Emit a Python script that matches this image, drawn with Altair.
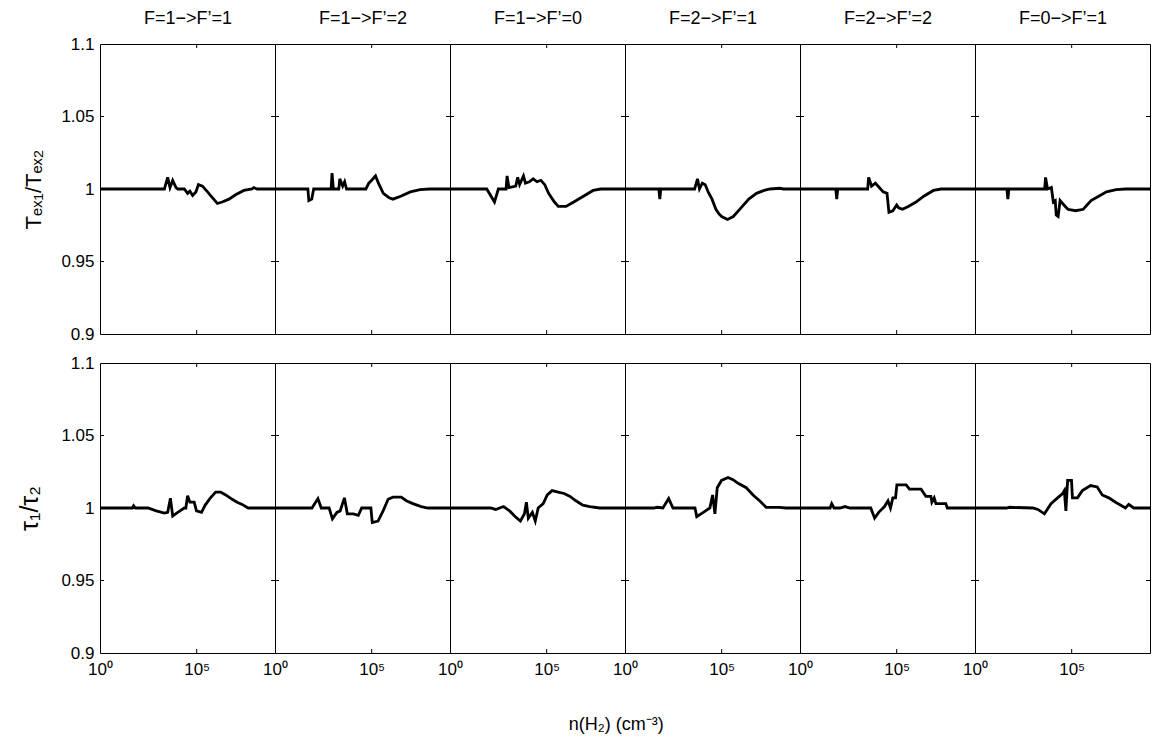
import altair as alt
import pandas as pd

FONT = "Liberation Sans"

# ---------------- panel titles ----------------
panel_titles = ["F=1−>F’=1", "F=1−>F’=2", "F=1−>F’=0",
                "F=2−>F’=1", "F=2−>F’=2", "F=0−>F’=1"]

# ---------------- top row: Tex1/Tex2 (x given as log10 n(H2)) ----------------
tex_p1_logn = [0, 3.33, 3.50, 3.62, 3.76, 3.93, 4.02, 4.36, 4.53, 4.65, 4.79, 4.96, 5.09, 5.30,
               5.56, 5.81, 6.07, 6.32, 6.67, 7.01, 7.44, 7.86, 7.95, 8.12, 9.05]
tex_p1_val = [1.0, 1.0, 1.008, 1.001, 1.006, 1.001, 1.0, 1.0, 0.997, 0.9985, 0.9955, 0.998, 1.003, 1.002,
              0.998, 0.994, 0.990, 0.991, 0.993, 0.996, 0.999, 1.0, 1.001, 1.0, 1.0]

tex_p2_logn = [0, 1.70, 1.75, 1.90, 2.0, 2.90, 2.95, 3.02, 3.30, 3.35, 3.50, 3.60, 3.70, 4.70,
               4.85, 5.0, 5.20, 5.35, 5.60, 5.90, 6.10, 6.50, 7.0, 7.50, 8.0, 9.05]
tex_p2_val = [1.0, 1.0, 0.992, 0.993, 1.0, 1.0, 1.011, 1.0, 1.0, 1.007, 1.002, 1.005, 1.0, 1.0,
              1.004, 1.006, 1.009, 1.004, 0.997, 0.994, 0.993, 0.995, 0.998, 0.9995, 1.0, 1.0]

tex_p3_logn = [0, 1.90, 2.30, 2.50, 2.90, 2.95, 3.05, 3.40, 3.50, 3.60, 3.80, 3.90, 4.10, 4.30,
               4.50, 4.70, 4.90, 5.10, 5.40, 5.60, 6.0, 6.40, 6.90, 7.40, 7.80, 9.05]
tex_p3_val = [1.0, 1.0, 0.991, 1.0, 1.0, 1.009, 1.001, 1.002, 1.008, 1.003, 1.009, 1.004, 1.005, 1.007,
              1.005, 1.006, 1.003, 0.997, 0.991, 0.988, 0.988, 0.991, 0.995, 0.999, 1.0, 1.0]

tex_p4_logn = [0, 1.75, 1.80, 1.85, 3.60, 3.75, 3.85, 4.0, 4.15, 4.30, 4.50, 4.70, 4.85, 5.0,
               5.30, 5.60, 6.0, 6.40, 6.80, 7.20, 7.50, 8.0, 8.2, 9.05]
tex_p4_val = [1.0, 1.0, 0.993, 1.0, 1.0, 1.007, 1.0, 1.004, 1.003, 0.998, 0.993, 0.986, 0.983, 0.981,
              0.979, 0.981, 0.987, 0.993, 0.997, 0.999, 1.0, 1.0005, 1.0, 1.0]

tex_p5_logn = [0, 1.85, 1.90, 1.95, 3.50, 3.55, 3.70, 3.90, 4.10, 4.30, 4.50, 4.60, 4.80, 5.0,
               5.10, 5.30, 5.60, 6.0, 6.40, 6.90, 7.30, 9.05]
tex_p5_val = [1.0, 1.0, 0.993, 1.0, 1.0, 1.008, 1.002, 1.004, 1.001, 0.998, 0.997, 0.984, 0.985, 0.989,
              0.987, 0.986, 0.988, 0.991, 0.995, 0.999, 1.0, 1.0]

tex_p6_logn = [0, 1.65, 1.70, 1.75, 3.60, 3.65, 3.75, 3.95, 4.05, 4.15, 4.20, 4.30, 4.40, 4.60,
               4.80, 5.20, 5.60, 6.0, 6.40, 6.80, 7.30, 7.80, 9.05]
tex_p6_val = [1.0, 1.0, 0.993, 1.0, 1.0, 1.008, 1.0, 1.001, 0.991, 0.992, 0.982, 0.981, 0.992, 0.989,
              0.986, 0.985, 0.986, 0.992, 0.995, 0.998, 0.9995, 1.0, 1.0]

# ---------------- bottom row: tau1/tau2 ----------------
tau_p1_logn = [0, 1.67, 1.74, 1.83, 2.48, 2.91, 3.33, 3.50, 3.64, 3.76, 4.02, 4.36, 4.44, 4.53,
               4.65, 4.87, 4.99, 5.25, 5.44, 5.68, 5.98, 6.24, 6.50, 6.84, 7.09, 7.35, 7.66, 9.05]
tau_p1_val = [1.0, 1.0, 1.0016, 1.0, 1.0, 0.998, 0.9965, 0.997, 1.0067, 0.9945, 0.997, 1.0, 1.0, 1.0085,
              1.004, 1.004, 0.998, 0.997, 1.002, 1.0065, 1.011, 1.011, 1.009, 1.006, 1.004, 1.0025, 1.0, 1.0]

tau_p2_logn = [0, 1.91, 2.22, 2.39, 2.80, 2.97, 3.20, 3.37, 3.59, 3.74, 4.05, 4.31, 4.48, 4.96,
               5.03, 5.33, 5.59, 5.85, 6.10, 6.53, 6.79, 7.13, 7.56, 7.90, 9.05]
tau_p2_val = [1.0, 1.0, 1.0065, 1.0, 1.0, 0.9925, 0.997, 0.998, 1.007, 0.996, 0.996, 0.995, 1.0, 1.0,
              0.990, 0.991, 0.998, 1.006, 1.0075, 1.0075, 1.005, 1.003, 1.001, 1.0, 1.0]

tau_p3_logn = [0, 2.10, 2.36, 2.77, 3.08, 3.38, 3.64, 3.85, 3.95, 4.05, 4.26, 4.41, 4.56, 4.82,
               5.03, 5.28, 5.59, 5.90, 6.21, 6.51, 6.87, 7.23, 7.74, 9.05]
tau_p3_val = [1.0, 1.0, 0.999, 1.001, 0.998, 0.994, 0.991, 0.996, 1.004, 0.993, 0.997, 0.991, 1.0, 1.003,
              1.009, 1.012, 1.011, 1.010, 1.008, 1.005, 1.002, 1.001, 1.0, 1.0]

tau_p4_logn = [0, 1.49, 1.66, 1.96, 2.26, 2.48, 3.62, 3.71, 4.05, 4.39, 4.53, 4.65, 4.77, 4.99,
               5.33, 5.59, 5.85, 6.27, 6.62, 6.96, 7.30, 7.64, 7.98, 8.32, 9.05]
tau_p4_val = [1.0, 1.0, 1.0005, 1.0, 1.0065, 1.0, 1.0, 0.994, 0.997, 1.0, 1.009, 0.996, 1.014, 1.019,
              1.021, 1.0195, 1.017, 1.014, 1.009, 1.005, 1.0005, 1.0005, 1.0005, 1.0, 1.0]

tau_p5_logn = [0, 1.56, 1.64, 1.76, 2.07, 2.32, 2.58, 3.66, 3.86, 4.07, 4.37, 4.55, 4.68, 4.80,
               4.94, 5.01, 5.49, 5.66, 6.26, 6.51, 6.77, 6.82, 6.94, 7.03, 7.54, 7.62, 9.05]
tau_p5_val = [1.0, 1.0, 1.003, 1.0, 1.0, 1.001, 1.0, 1.0, 0.993, 0.997, 1.001, 1.005, 1.0, 1.007,
              1.007, 1.016, 1.016, 1.013, 1.013, 1.008, 1.008, 1.004, 1.007, 1.003, 1.003, 1.0, 1.0]

tau_p6_logn = [0, 1.62, 1.79, 2.99, 3.25, 3.59, 3.93, 4.27, 4.53, 4.62, 4.70, 4.79, 4.99, 5.04,
               5.30, 5.55, 5.98, 6.32, 6.58, 6.92, 7.27, 7.78, 7.95, 8.21, 9.05]
tau_p6_val = [1.0, 1.0, 1.0005, 1.0, 0.999, 0.996, 1.003, 1.007, 1.010, 1.012, 0.998, 1.019, 1.019, 1.007,
              1.007, 1.012, 1.0155, 1.0145, 1.009, 1.007, 1.004, 1.0, 1.0025, 1.0, 1.0]

top_series = [(tex_p1_logn, tex_p1_val), (tex_p2_logn, tex_p2_val), (tex_p3_logn, tex_p3_val),
              (tex_p4_logn, tex_p4_val), (tex_p5_logn, tex_p5_val), (tex_p6_logn, tex_p6_val)]
bottom_series = [(tau_p1_logn, tau_p1_val), (tau_p2_logn, tau_p2_val), (tau_p3_logn, tau_p3_val),
                 (tau_p4_logn, tau_p4_val), (tau_p5_logn, tau_p5_val), (tau_p6_logn, tau_p6_val)]

y_ticks = [0.9, 0.95, 1.0, 1.05, 1.1]
x_ticks = [1, 1e5]
X_MIN_EXP, X_MAX_EXP = 0.0, 9.05
Y_MIN, Y_MAX = 0.9, 1.1
row_titles = ["Tₑₓ₁/Tₑₓ₂", "τ₁/τ₂"]
x_title = "n(H₂) (cm⁻³)"

PANEL_W, PANEL_H = 175, 290
XMIN, XMAX = 10 ** X_MIN_EXP, 10 ** X_MAX_EXP

# inward tick marks (built from the tick values, in data units)
tick_len_y = 4 / PANEL_H * (Y_MAX - Y_MIN)
tick_len_x = 4 / PANEL_W * (X_MAX_EXP - X_MIN_EXP)
tick_rows = []
for xv in x_ticks[1:]:
    tick_rows.append(dict(n=xv, n2=xv, r=Y_MIN, r2=Y_MIN + tick_len_y))
    tick_rows.append(dict(n=xv, n2=xv, r=Y_MAX - tick_len_y, r2=Y_MAX))
for yv in y_ticks[1:-1]:
    tick_rows.append(dict(n=XMIN, n2=10 ** (X_MIN_EXP + tick_len_x), r=yv, r2=yv))
    tick_rows.append(dict(n=10 ** (X_MAX_EXP - tick_len_x), n2=XMAX, r=yv, r2=yv))
tick_df = pd.DataFrame(tick_rows)


def make_panel(logn, vals, row, col):
    df = pd.DataFrame({"n": [10 ** e for e in logn], "r": vals})
    if row == 1:
        x_axis = alt.Axis(values=x_ticks, labelExpr="datum.value < 10 ? '10⁰' : '10⁵'",
                          ticks=False, domain=False, grid=False, labelFontSize=17,
                          labelPadding=8, labelFont=FONT, labelColor="black", title=None,
                          labelFlush=False)
    else:
        # top axis used only to carry the panel title
        x_axis = alt.Axis(orient="top", labels=False, ticks=False, domain=False, grid=False,
                          title=panel_titles[col], titleFont=FONT, titleFontSize=18,
                          titleFontWeight="normal", titleColor="black", titlePadding=17)
    if col == 0:
        y_axis = alt.Axis(values=y_ticks, format="~g", ticks=False, domain=False, grid=False,
                          labelFontSize=17, labelPadding=6, labelFont=FONT, labelColor="black",
                          title=row_titles[row], titleFont=FONT,
                          titleFontSize=22 if row == 0 else 25, titleFontWeight="normal",
                          titleColor="black", titlePadding=15 if row == 0 else 18,
                          labelFlush=False)
    else:
        y_axis = None
    xenc = alt.X("n:Q", scale=alt.Scale(type="log", domain=[XMIN, XMAX]), axis=x_axis)
    yenc = alt.Y("r:Q", scale=alt.Scale(domain=[Y_MIN, Y_MAX]), axis=y_axis)
    line = alt.Chart(df).mark_line(color="black", strokeWidth=2.8, clip=True).encode(x=xenc, y=yenc)
    ticks = alt.Chart(tick_df).mark_rule(color="black", strokeWidth=1).encode(
        x=xenc, x2="n2:Q", y=yenc, y2="r2:Q")
    return alt.layer(line, ticks).properties(width=PANEL_W, height=PANEL_H)


panels = [make_panel(l, v, 0, i) for i, (l, v) in enumerate(top_series)] + \
         [make_panel(l, v, 1, i) for i, (l, v) in enumerate(bottom_series)]

chart = alt.concat(*panels, columns=6, spacing={"row": 29, "column": 0}, bounds="flush").properties(
    title=alt.TitleParams(x_title, orient="bottom", anchor="middle", fontSize=18, font=FONT,
                          fontWeight="normal", color="black", offset=38, dx=32),
    padding={"left": 9, "top": 0, "right": 0, "bottom": 2},
).configure_view(stroke="black", strokeWidth=1)

chart.save("out.html", embed_options={"renderer": "svg", "actions": False})
